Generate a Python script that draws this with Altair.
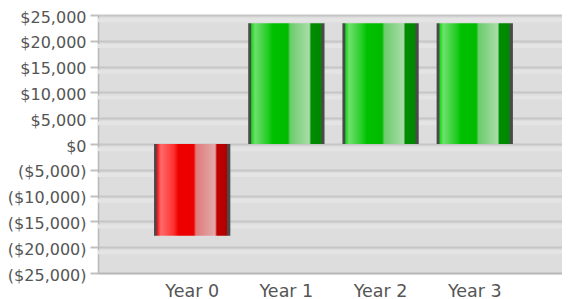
import altair as alt
import pandas as pd

years = ["Year 0", "Year 1", "Year 2", "Year 3"]
cash_flow = [-17800, 23400, 23400, 23400]
y_ticks = [-25000, -20000, -15000, -10000, -5000, 0, 5000, 10000, 15000, 20000, 25000]

df = pd.DataFrame({"year": years, "value": cash_flow})
stripes = pd.DataFrame({"v": [t - 1000 for t in y_ticks[1:]]})

FONT = "DejaVu Sans"

def grad(stops):
    return alt.Gradient(
        gradient="linear", x1=0, x2=1, y1=0, y2=0,
        stops=[alt.GradientStop(offset=o, color=c) for o, c in stops],
    )

red = grad([
    (0.0, "#4a4a4a"), (0.03, "#4a4a4a"), (0.045, "#ff1414"), (0.09, "#ff6b6b"),
    (0.26, "#ff3030"), (0.32, "#ee0000"), (0.52, "#ec0000"), (0.55, "#e27a7a"),
    (0.80, "#e2aaaa"), (0.825, "#c00000"), (0.95, "#b00000"), (0.965, "#4a4a4a"),
    (1.0, "#4a4a4a"),
])
green = grad([
    (0.0, "#4a4a4a"), (0.03, "#4a4a4a"), (0.045, "#14dd14"), (0.09, "#6ee06e"),
    (0.26, "#22cc22"), (0.32, "#00c000"), (0.52, "#00bb00"), (0.55, "#6ccc6c"),
    (0.80, "#a8dca8"), (0.825, "#008c00"), (0.95, "#008800"), (0.965, "#4a4a4a"),
    (1.0, "#4a4a4a"),
])

x_enc = alt.X(
    "year:N", sort=years, title=None,
    scale=alt.Scale(paddingInner=0.19, paddingOuter=0.558, align=0.533),
    axis=alt.Axis(labelAngle=0, ticks=False, domainColor="#b8b8b8", domainWidth=1.5,
                  labelFont=FONT, labelFontSize=17.5, labelColor="#555555",
                  labelPadding=9, grid=False),
)
y_scale = alt.Scale(domain=[-25000, 25000], nice=False)
y_axis = alt.Axis(values=y_ticks, grid=True, gridColor="#c6c6c6", gridWidth=2,
                  domainColor="#b8b8b8", domainWidth=1.5, tickColor="#c0c0c0",
                  tickSize=8, tickWidth=2, labelFont=FONT, labelFontSize=16,
                  labelColor="#555555", labelPadding=4, labelOverlap=False,
                  labelOffset=2,
                  labelExpr="datum.value < 0 ? '($' + format(-datum.value, ',') + ')' : '$' + format(datum.value, ',') + '\u00a0\u200a'")
y_enc = alt.Y("value:Q", title=None, scale=y_scale, axis=y_axis)

stripe_layer = alt.Chart(stripes).mark_rule(color="#e4e4e4", strokeWidth=4).encode(
    y=alt.Y("v:Q", title=None, scale=y_scale, axis=y_axis)
)
neg = alt.Chart(df).transform_filter("datum.value < 0").mark_bar(color=red).encode(x=x_enc, y=y_enc)
pos = alt.Chart(df).transform_filter("datum.value >= 0").mark_bar(color=green).encode(x=x_enc, y=y_enc)

chart = (
    alt.layer(stripe_layer, neg, pos)
    .properties(
        width=464, height=258,
        autosize=alt.AutoSizeParams(type="none"),
        padding={"left": 90, "top": 7, "right": 0, "bottom": 26},
        background="white",
    )
    .configure_view(fill="#dddddd", stroke=None)
    .configure_axis(labelOverlap=False)
)

chart.save("out.html", embed_options={"renderer": "svg", "actions": False})
